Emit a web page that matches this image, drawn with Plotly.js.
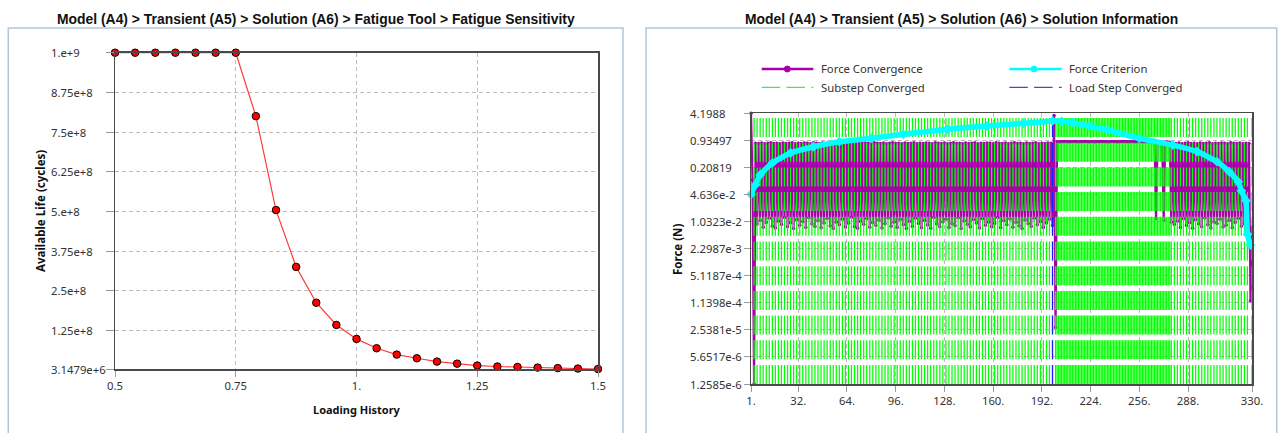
<!DOCTYPE html>
<html><head><meta charset="utf-8">
<script src="https://cdn.plot.ly/plotly-3.0.1.min.js"></script>
<style>html,body{margin:0;padding:0;background:#fff;overflow:hidden}#chart{width:1279px;height:433px}</style>
</head><body><div id="chart"></div>
<script>
// ---------- Left chart data: Fatigue Sensitivity ----------
const loadingHistory = [0.5,0.541667,0.583333,0.625,0.666667,0.708333,0.75,0.791667,0.833333,0.875,0.916667,0.958333,1.0,1.041667,1.083333,1.125,1.166667,1.208333,1.25,1.291667,1.333333,1.375,1.416667,1.458333,1.5];
const availableLife = [1e9,1e9,1e9,1e9,1e9,1e9,1e9,8.0e8,5.04e8,3.25e8,2.12e8,1.42e8,9.8e7,6.85e7,4.85e7,3.7e7,2.65e7,2.0e7,1.4e7,1.1e7,9.5e6,7.5e6,6.0e6,4.5e6,3.1479e6];
const lifeTickVals = [1e9,8.75e8,7.5e8,6.25e8,5e8,3.75e8,2.5e8,1.25e8,3.1479e6];
const lifeTickText = ["1.e+9","8.75e+8","7.5e+8","6.25e+8","5.e+8","3.75e+8","2.5e+8","1.25e+8","3.1479e+6"];
const historyTickVals = [0.5,0.75,1,1.25,1.5];
const historyTickText = ["0.5","0.75","1.","1.25","1.5"];

// ---------- Right chart data: Solution Information ----------
// Force Convergence, one value per cumulative iteration (1..330)
const forceConvergence = [
4.1988,0.104,1.2585e-6,
0.80,0.0090,0.79,0.0110,0.81,0.0075,0.78,0.0098,0.80,0.0125,0.82,0.0080,0.79,0.0072,0.80,0.0105,0.78,0.0088,0.81,0.0130,
0.79,0.0078,0.80,0.0095,0.82,0.0070,0.78,0.0115,0.80,0.0084,0.79,0.0102,0.81,0.0074,0.80,0.0128,0.78,0.0090,0.82,0.0079,
0.80,0.0108,0.79,0.0073,0.81,0.0096,0.78,0.0122,0.80,0.0081,0.82,0.0070,0.79,0.0100,0.80,0.0086,0.78,0.0118,0.81,0.0076,
0.79,0.0094,0.80,0.0132,0.82,0.0078,0.78,0.0071,0.80,0.0104,0.79,0.0089,0.81,0.0120,0.80,0.0075,0.78,0.0097,0.82,0.0083,
0.80,0.0112,0.79,0.0072,0.81,0.0091,0.78,0.0126,0.80,0.0080,0.82,0.0099,0.79,0.0074,0.80,0.0116,0.78,0.0087,0.81,0.0070,
0.79,0.0103,0.80,0.0079,0.82,0.0124,0.78,0.0093,0.80,0.0073,0.79,0.0110,0.81,0.0085,0.80,0.0071,0.78,0.0130,0.82,0.0090,
0.80,0.0077,0.79,0.0101,0.81,0.0118,0.78,0.0074,0.80,0.0092,0.82,0.0082,0.79,0.0127,0.80,0.0070,0.78,0.0106,0.81,0.0088,
0.79,0.0076,0.80,0.0114,0.82,0.0096,0.78,0.0072,0.80,0.0121,0.79,0.0084,0.81,0.0100,0.80,0.0078,0.78,0.0093,0.82,0.0129,
0.80,0.0073,0.79,0.0108,0.81,0.0087,0.78,0.0119,0.80,0.0075,0.82,0.0098,0.79,0.0081,0.80,0.0070,0.78,0.0112,0.81,0.0091,
0.79,0.0079,0.80,0.0125,0.82,0.0086,0.78,0.0102,0.80,0.0074,0.79,0.0095,0.81,0.0117,0.80,0.0083,
3.7,2.9e-5,
0.87,0.87,0.86,0.87,0.87,0.88,0.87,0.87,
0.86,0.87,0.87,0.87,0.88,0.87,0.86,0.87,
0.87,0.87,0.88,0.87,0.87,0.86,0.87,0.87,
0.87,0.86,0.87,0.87,0.87,0.88,0.87,0.87,
0.87,0.87,0.86,0.87,0.88,0.87,0.87,0.87,
0.86,0.87,0.87,0.88,0.87,0.87,0.87,0.86,
0.87,0.87,0.87,0.87,0.86,0.87,0.88,0.87,
0.87,0.86,0.87,0.87,0.87,0.87,0.86,0.86,
0.86,0.012,0.85,0.86,0.86,0.85,0.011,0.84,0.85,0.84,0.84,0.010,
0.80,0.0088,0.79,0.0105,0.81,0.0074,0.78,0.0121,0.80,0.0083,0.82,0.0097,0.79,0.0071,0.80,0.0114,0.78,0.0090,0.81,0.0078,
0.79,0.0126,0.80,0.0086,0.82,0.0072,0.78,0.0101,0.80,0.0093,0.79,0.0118,0.81,0.0076,0.80,0.0084,0.78,0.0109,0.82,0.0073,
0.80,0.0098,0.79,0.0122,0.81,0.0080,0.78,0.0091,0.80,0.0075,0.79,
1.28e-4,0.0075
];
// Force Criterion
const criterionIter = [1,4,7,15,27,42,59,80,101,130,156,180,199,205,212,223,235,256,278,294,307,315,321,323,326,327,329];
const criterionVal  = [0.047,0.08,0.137,0.266,0.464,0.658,0.869,1.05,1.31,1.73,2.08,2.41,2.75,2.70,2.49,2.08,1.66,1.05,0.72,0.50,0.286,0.164,0.094,0.057,0.033,0.0051,0.0028];
// Substep Converged (cumulative iteration)
const substepIter = [3,5,7,9,11,13,15,17,19,21,23,25,27,29,31,33,35,37,39,41,43,45,47,49,51,53,55,57,59,61,63,65,67,69,71,73,75,77,79,81,83,85,87,89,91,93,95,97,99,101,103,105,107,109,111,113,115,117,119,121,123,125,127,129,131,133,135,137,139,141,143,145,147,149,151,153,155,157,159,161,163,165,167,169,171,173,175,177,179,181,183,185,187,189,191,193,195,197,199,
201,202,203,204,205,206,207,208,209,210,211,212,213,214,215,216,217,218,219,220,221,222,223,224,225,226,227,228,229,230,231,232,233,234,235,236,237,238,239,240,241,242,243,244,245,246,247,248,249,250,251,252,253,254,255,256,257,258,259,260,261,262,263,264,265,
266,267,268,269,270,271,272,273,274,275,276,277,
279,281,283,285,287,289,291,293,295,297,299,301,303,305,307,309,311,313,315,317,319,321,323,325,327,330];
// Load Step Converged
const loadStepIter = [199];
const forceMin = 1.2585e-6, forceMax = 4.1988;
const forceTickVals = [4.1988,0.93497,0.20819,4.636e-2,1.0323e-2,2.2987e-3,5.1187e-4,1.1398e-4,2.5381e-5,5.6517e-6,1.2585e-6];
const forceTickText = ["4.1988","0.93497","0.20819","4.636e-2","1.0323e-2","2.2987e-3","5.1187e-4","1.1398e-4","2.5381e-5","5.6517e-6","1.2585e-6"];
const iterTickVals = [1,32,64,96,128,160,192,224,256,288,330];
const iterTickText = ["1.","32.","64.","96.","128.","160.","192.","224.","256.","288.","330."];

// ---------- layout helpers ----------
const W = 1279, H = 433;
const px = v => v / W, py = v => 1 - v / H;
const F = 'Noto Sans, Open Sans, sans-serif';
const TF = 'Liberation Sans, Arial, sans-serif';
const MAG = '#aa00aa', CY = '#00ffff', GR = '#00ff00', BL = '#1a1aff';
const DASH = '19px,5.7px';

function vlines(iters){
  const x=[], y=[];
  iters.forEach(it=>{ x.push(it,it,null); y.push(forceMin,forceMax,null); });
  return {x,y};
}
const sub = vlines(substepIter), ls = vlines(loadStepIter);

const traces = [
  {type:'scatter',mode:'lines+markers',x:loadingHistory,y:availableLife,xaxis:'x',yaxis:'y',
   line:{color:'#ff3a3a',width:1.2},marker:{color:'#ff0000',size:7.5,line:{color:'#000',width:1}},
   cliponaxis:false,showlegend:false,name:'Available Life',hoverinfo:'skip'},
  {type:'scatter',mode:'lines+markers',x:forceConvergence.map((v,i)=>i+1),y:forceConvergence,xaxis:'x2',yaxis:'y2',
   line:{color:MAG,width:2.2,simplify:false},marker:{color:MAG,size:3.5},cliponaxis:false,showlegend:false,name:'Force Convergence',hoverinfo:'skip'},
  {type:'scatter',mode:'lines',x:sub.x,y:sub.y,xaxis:'x2',yaxis:'y2',connectgaps:false,
   line:{color:GR,width:1.25,dash:DASH,simplify:false},showlegend:false,name:'Substep Converged',hoverinfo:'skip'},
  {type:'scatter',mode:'lines',x:ls.x,y:ls.y,xaxis:'x2',yaxis:'y2',connectgaps:false,
   line:{color:BL,width:1.2,dash:DASH,simplify:false},showlegend:false,name:'Load Step Converged',hoverinfo:'skip'},
  {type:'scatter',mode:'lines+markers',x:criterionIter,y:criterionVal,xaxis:'x2',yaxis:'y2',
   line:{color:CY,width:5.5,shape:'spline',smoothing:0.6},marker:{color:CY,size:7.5,symbol:'diamond'},cliponaxis:false,showlegend:false,name:'Force Criterion',hoverinfo:'skip'}
];

const axCommon = {showline:true,mirror:true,linecolor:'#4a4a4a',linewidth:1.5,ticks:'outside',ticklen:6,tickcolor:'#9a9a9a',
  showgrid:true,gridcolor:'#bcbcbc',griddash:'4px,3px',gridwidth:1,zeroline:false,fixedrange:true,
  tickfont:{family:F,size:11.3,color:'#333'}};

const annotations = [];
function ann(text,x,y,opts){ annotations.push(Object.assign({text,x,y,xref:'paper',yref:'paper',showarrow:false,
  xanchor:'center',yanchor:'middle',font:{family:F,size:11.3,color:'#333'}},opts||{})); }
// titles
ann('Model (A4) > Transient (A5) > Solution (A6) > Fatigue Tool > Fatigue Sensitivity',px(316),py(19),{font:{family:TF,size:13.9,color:'#111',weight:'bold'}});
ann('Model (A4) > Transient (A5) > Solution (A6) > Solution Information',px(961),py(19),{font:{family:TF,size:13.9,color:'#111',weight:'bold'}});
// axis titles
ann('Available Life (cycles)',px(40),py(211),{textangle:-90,font:{family:F,size:11.5,color:'#111',weight:'bold'}});
ann('Loading History',px(356.5),py(409),{font:{family:F,size:11,color:'#111',weight:'bold'}});
ann('Force (N)',px(678),py(250),{textangle:-90,font:{family:F,size:11.5,color:'#111',weight:'bold'}});
// y tick labels (left aligned like the original)
lifeTickVals.forEach((v,i)=>annotations.push({text:lifeTickText[i],x:px(49.3),xref:'paper',xanchor:'left',y:v,yref:'y',yanchor:'middle',showarrow:false,font:{family:F,size:11.3,color:'#333'}}));
forceTickVals.forEach((v,i)=>annotations.push({text:forceTickText[i],x:px(687.7),xref:'paper',xanchor:'left',y:Math.log10(v),yref:'y2',yanchor:'middle',showarrow:false,font:{family:F,size:11.3,color:'#333'}}));
// legend texts
ann('Force Convergence',px(819.3),py(69),{xanchor:'left'});
ann('Force Criterion',px(1066.7),py(69),{xanchor:'left'});
ann('Substep Converged',px(819.3),py(87.3),{xanchor:'left'});
ann('Load Step Converged',px(1066.7),py(87.3),{xanchor:'left'});

const shapes = [
  {type:'rect',xref:'paper',yref:'paper',x0:px(8.3),x1:px(623),y0:py(445),y1:py(28),line:{color:'#b3c5dc',width:1.5},layer:'below'},
  {type:'rect',xref:'paper',yref:'paper',x0:px(646),x1:px(1276.7),y0:py(445),y1:py(28),line:{color:'#b3c5dc',width:1.5},layer:'below'},
  // legend samples
  {type:'line',xref:'paper',yref:'paper',x0:px(761.7),x1:px(813.3),y0:py(69),y1:py(69),line:{color:MAG,width:2.5}},
  {type:'circle',xref:'paper',yref:'paper',x0:px(784.3),x1:px(790.3),y0:py(72),y1:py(66),fillcolor:MAG,line:{color:MAG,width:1}},
  {type:'line',xref:'paper',yref:'paper',x0:px(1009.3),x1:px(1061.7),y0:py(69),y1:py(69),line:{color:CY,width:2.5}},
  {type:'circle',xref:'paper',yref:'paper',x0:px(1031),x1:px(1037),y0:py(72),y1:py(66),fillcolor:CY,line:{color:CY,width:1}},
  {type:'line',xref:'paper',yref:'paper',x0:px(761.7),x1:px(813.3),y0:py(87.3),y1:py(87.3),line:{color:'#44ee44',width:1.3,dash:'18.5px,6.3px'}},
  {type:'line',xref:'paper',yref:'paper',x0:px(1009.3),x1:px(1061.7),y0:py(87.3),y1:py(87.3),line:{color:'#4444ee',width:1.3,dash:'18.5px,6.3px'}}
];

const layout = {
  width:W,height:H,autosize:false,margin:{l:0,r:0,t:0,b:0},paper_bgcolor:'#fff',plot_bgcolor:'#fff',showlegend:false,
  xaxis:Object.assign({},axCommon,{domain:[px(115),px(598)],range:[0.5,1.5],anchor:'y',tickmode:'array',tickvals:historyTickVals,ticktext:historyTickText}),
  yaxis:Object.assign({},axCommon,{domain:[py(369),py(52.7)],range:[3.1479e6,1e9],anchor:'x',tickmode:'array',tickvals:lifeTickVals,showticklabels:false,ticklen:8}),
  xaxis2:Object.assign({},axCommon,{domain:[px(751),px(1252)],range:[1,330],anchor:'y2',tickmode:'array',tickvals:iterTickVals,ticktext:iterTickText}),
  yaxis2:Object.assign({},axCommon,{domain:[py(384),py(113.3)],type:'log',range:[Math.log10(forceMin),Math.log10(forceMax)],anchor:'x2',tickmode:'array',tickvals:forceTickVals,showticklabels:false}),
  annotations, shapes
};
Plotly.newPlot('chart',traces,layout,{staticPlot:true,displayModeBar:false});
</script></body></html>
